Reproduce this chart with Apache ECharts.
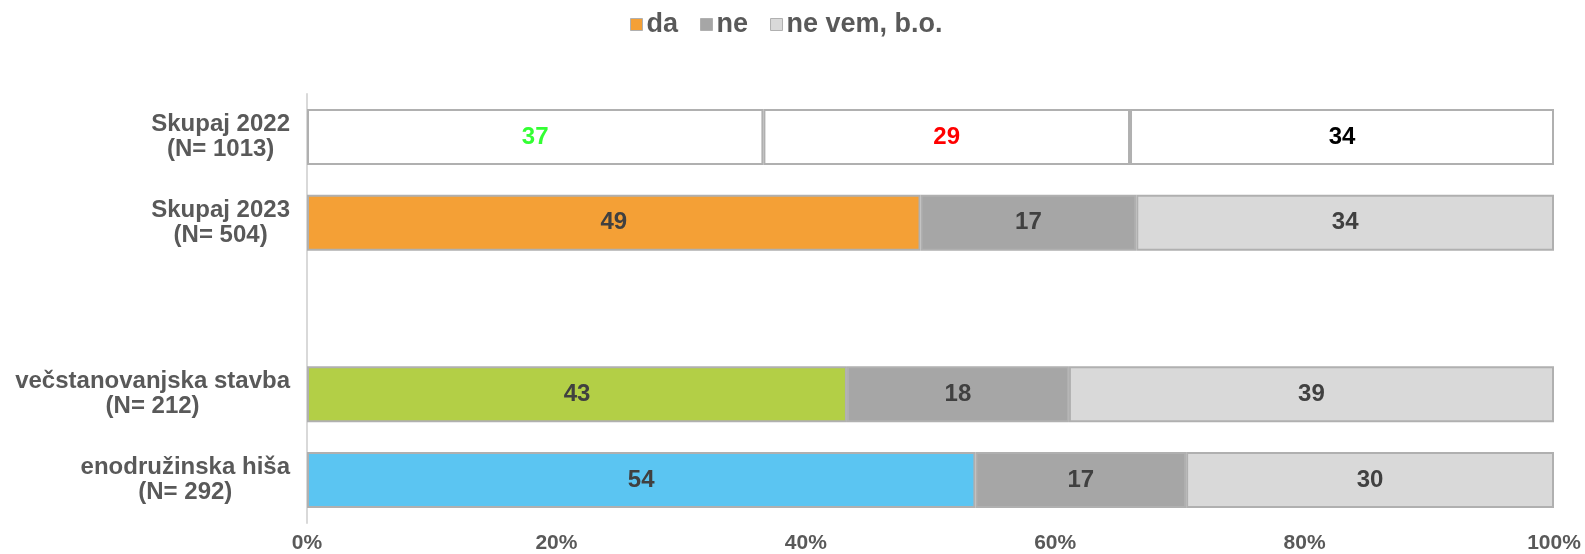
<!DOCTYPE html>
<html>
<head>
<meta charset="utf-8">
<script src="https://cdn.jsdelivr.net/npm/echarts@6/dist/echarts.min.js"></script>
<style>
  html, body { margin: 0; padding: 0; background: #fff; }
  #chart { width: 1585px; height: 554px; }
</style>
</head>
<body>
<div id="chart"></div>
<script>
// podatki
let categories = ['Skupaj 2022', 'Skupaj 2023', '', 'večstanovanjska stavba', 'enodružinska hiša'];
let sampleN = ['1013', '504', '', '212', '292'];
let seriesNames = ['da', 'ne', 'ne vem, b.o.'];
let daValues = [36.6, 49.2, null, 43.3, 53.6];
let neValues = [29.4, 17.3, null, 17.8, 16.9];
let nevemValues = [34.0, 33.5, null, 38.9, 29.5];
let xTicks = ['0%', '20%', '40%', '60%', '80%', '100%'];

(function () {
    let myChart = echarts.init(document.getElementById('chart'));

    // barve po kategorijah (vrstica 2022 je bela)
    let daColors = ['#ffffff', '#f4a036', '#ffffff', '#b3cf46', '#5bc5f2'];
    let neColors = ['#ffffff', '#a6a6a6', '#ffffff', '#a6a6a6', '#a6a6a6'];
    let nevemColors = ['#ffffff', '#d9d9d9', '#ffffff', '#d9d9d9', '#d9d9d9'];
    let label2022 = ['#33ff33', '#ff0000', '#000000'];

    function buildData(values, colors, idx) {
        return values.map(function (v, i) {
            let item = { value: v, itemStyle: { color: colors[i] } };
            if (i === 0) {
                item.label = { color: label2022[idx] };
            }
            return item;
        });
    }

    let lists = [daValues, neValues, nevemValues];
    let colorLists = [daColors, neColors, nevemColors];
    let legendColors = ['#f4a036', '#a6a6a6', '#d9d9d9'];
    let font = 'Liberation Sans, Arial, sans-serif';

    let series = seriesNames.map(function (name, idx) {
        return {
            name: name,
            type: 'bar',
            stack: 'total',
            barWidth: 56,
            color: legendColors[idx],
            itemStyle: {
                borderColor: '#b0b0b0',
                borderWidth: 2
            },
            label: {
                show: true,
                position: 'inside',
                fontFamily: font,
                fontWeight: 'bold',
                fontSize: 24,
                color: '#404040',
                formatter: function (p) {
                    return p.value == null ? '' : Math.round(p.value);
                }
            },
            data: buildData(lists[idx], colorLists[idx], idx)
        };
    });

    let option = {
        animation: false,
        textStyle: { fontFamily: font },
        legend: {
            top: 6,
            left: 625,
            itemWidth: 12,
            itemHeight: 12,
            itemGap: 22,
            icon: 'rect',
            textStyle: {
                fontWeight: 'bold',
                fontSize: 27,
                color: '#595959',
                padding: [0, 0, 0, -1]
            },
            itemStyle: { borderColor: '#b0b0b0', borderWidth: 1 },
            data: seriesNames
        },
        grid: {
            top: 94,
            bottom: 28,
            left: 307,
            right: 31,
            containLabel: false
        },
        xAxis: {
            type: 'value',
            min: 0,
            max: 100,
            interval: 20,
            axisLine: { show: false },
            axisTick: { show: false },
            splitLine: { show: false },
            axisLabel: {
                margin: 10,
                fontWeight: 'bold',
                fontSize: 21,
                color: '#595959',
                formatter: function (v) {
                    return xTicks[v / 20];
                }
            }
        },
        yAxis: {
            type: 'category',
            inverse: true,
            data: categories,
            axisLine: { show: true, lineStyle: { color: '#d9d9d9', width: 2 } },
            axisTick: { show: false },
            axisLabel: {
                margin: 17,
                formatter: function (v, i) {
                    if (!v) return '';
                    return '{c|' + v + '}\n{c|(N= ' + sampleN[i] + ')}';
                },
                rich: {
                    c: {
                        align: 'center',
                        fontWeight: 'bold',
                        fontSize: 24,
                        lineHeight: 25,
                        color: '#595959',
                        fontFamily: font
                    }
                }
            }
        },
        series: series
    };
    myChart.setOption(option);
    window.addEventListener('resize', function () {
        myChart.resize();
    });
})();
</script>
</body>
</html>
